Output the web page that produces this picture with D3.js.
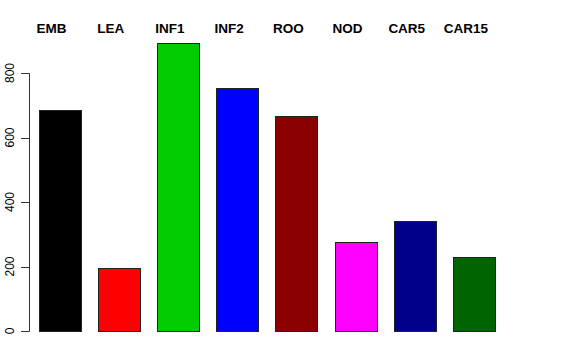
<!DOCTYPE html>
<html>
<head>
<meta charset="utf-8">
<script src="https://cdn.jsdelivr.net/npm/d3@7"></script>
<style>
  body { margin: 0; background: #fff; }
  svg { display: block; font-family: "Liberation Sans", Arial, Helvetica, sans-serif; }
  .groupLabel { font-weight: bold; font-size: 13.5px; }
  .axisLabel { font-size: 12px; }
</style>
</head>
<body>
<svg id="barViz" width="576" height="360"></svg>
<script>
// categories and counts
const groups = ["EMB", "LEA", "INF1", "INF2", "ROO", "NOD", "CAR5", "CAR15"];
const counts = [685, 195, 893, 754, 667, 275, 341, 229];
const barColors = ["#000000", "#ff0000", "#00cd00", "#0000ff", "#8b0000", "#ff00ff", "#00008b", "#006400"];
const yTicks = [0, 200, 400, 600, 800];

const svg = d3.select("#barViz");

const x = d3.scaleBand()
  .domain(groups)
  .range([38.5, 495])
  .paddingInner(0.29)
  .paddingOuter(0);

const y = d3.scaleLinear()
  .domain([0, 800])
  .range([331, 73]);

// bars
svg.selectAll("rect.bar")
  .data(groups)
  .join("rect")
  .attr("class", "bar")
  .attr("x", (d) => Math.round(x(d)) + 0.5)
  .attr("y", (d, i) => Math.round(y(counts[i])) + 0.5)
  .attr("width", Math.round(x.bandwidth()))
  .attr("height", (d, i) => Math.round(y(0)) - Math.round(y(counts[i])))
  .attr("fill", (d, i) => barColors[i])
  .attr("stroke", "#222")
  .attr("stroke-width", 1);

// group labels along the top
svg.selectAll("text.groupLabel")
  .data(groups)
  .join("text")
  .attr("class", "groupLabel")
  .attr("x", (d) => x(d) + x.bandwidth() / 2 - 8)
  .attr("y", 33)
  .attr("text-anchor", "middle")
  .text((d) => d);

// y axis, drawn by hand in the R style
const axisX = 29.5;
svg.append("line")
  .attr("x1", axisX)
  .attr("x2", axisX)
  .attr("y1", Math.round(y(0)) + 0.5)
  .attr("y2", Math.round(y(800)) + 0.5)
  .attr("stroke", "#333");

svg.selectAll("line.tick")
  .data(yTicks)
  .join("line")
  .attr("class", "tick")
  .attr("x1", 21)
  .attr("x2", axisX)
  .attr("y1", (d) => Math.round(y(d)) + 0.5)
  .attr("y2", (d) => Math.round(y(d)) + 0.5)
  .attr("stroke", "#333");

svg.selectAll("text.axisLabel")
  .data(yTicks)
  .join("text")
  .attr("class", "axisLabel")
  .attr("transform", (d) => "translate(13.5," + y(d) + ") rotate(-90)")
  .attr("text-anchor", "middle")
  .text((d) => d);
</script>
</body>
</html>
